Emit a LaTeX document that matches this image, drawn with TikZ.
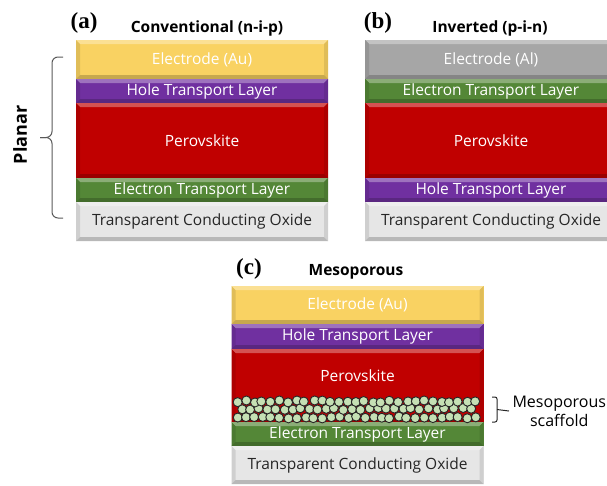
\documentclass[tikz,border=0pt]{standalone}
\usepackage{fontspec}
\setmainfont{Open Sans}
\newfontfamily\tagfont{Liberation Serif}
\usetikzlibrary{calc,positioning}

\definecolor{auGold}{RGB}{249,210,98}
\definecolor{alGray}{RGB}{166,166,166}
\definecolor{htlPurple}{RGB}{112,48,160}
\definecolor{perRed}{RGB}{192,0,0}
\definecolor{etlGreen}{RGB}{84,135,55}
\definecolor{tcoGray}{RGB}{230,230,230}
\definecolor{ballGreen}{RGB}{197,224,180}

\begin{document}
\begin{tikzpicture}[
  x=1pt,y=-1pt,
  layer/.style={fill=#1,minimum width=252pt,inner sep=0pt,outer sep=0pt,
    text=white,font=\fontsize{15.5}{16}\selectfont,
    path picture={
      \fill[#1!68!white] (path picture bounding box.north west)
        -- (path picture bounding box.north east) -- ++(-4pt,-4pt)
        -- ($(path picture bounding box.north west)+(4pt,-4pt)$) -- cycle;
      \fill[#1!90!black] (path picture bounding box.north west)
        -- ++(4pt,-4pt) -- ($(path picture bounding box.south west)+(4pt,4pt)$)
        -- (path picture bounding box.south west) -- cycle;
      \fill[#1!90!black] (path picture bounding box.north east)
        -- ++(-4pt,-4pt) -- ($(path picture bounding box.south east)+(-4pt,4pt)$)
        -- (path picture bounding box.south east) -- cycle;
      \fill[#1!80!black] (path picture bounding box.south west)
        -- (path picture bounding box.south east) -- ++(-4pt,4pt)
        -- ($(path picture bounding box.south west)+(4pt,4pt)$) -- cycle;
    }},
  thick layer/.style={minimum height=39pt},
  thin layer/.style={minimum height=24pt},
  absorber/.style={minimum height=75pt},
  tco/.style={layer=tcoGray,thick layer,text=black!85},
  paneltag/.style={font=\tagfont\bfseries\fontsize{23}{24}\selectfont},
  paneltitle/.style={font=\bfseries\fontsize{15.5}{17}\selectfont},
  brace line/.style={draw=black!65,line width=1pt,rounded corners=6pt},
  ball/.style={fill=ballGreen,draw=black!85,line width=0.9pt}
]
  \clip (0,0) rectangle (607,485);

  % (a) Conventional planar stack
  \node[paneltag] (taga) at (84,23) {(a)};
  \node[paneltitle] (titlea) at (207,28) {Conventional (n-i-p)};
  \node[layer=auGold,thick layer] (a1) at (202,59.5) {Electrode (Au)};
  \node[layer=htlPurple,thin layer,below=0pt of a1] (a2) {Hole Transport Layer};
  \node[layer=perRed,absorber,below=0pt of a2] (a3) {Perovskite};
  \node[layer=etlGreen,thin layer,below=0pt of a3] (a4) {Electron Transport Layer};
  \node[tco,below=0pt of a4] (a5) {Transparent Conducting Oxide};

  % Planar brace
  \coordinate (brtop) at (63,57);
  \coordinate (brbot) at (63,218);
  \coordinate (brtip) at (40,137.5);
  \draw[brace line] (brtop) -- ($(brtop)+(-11pt,0)$)
    -- ($(brtip)+(12pt,0)$) -- (brtip);
  \draw[brace line] (brbot) -- ($(brbot)+(-11pt,0)$)
    -- ($(brtip)+(12pt,0)$) -- (brtip);
  \node[font=\bfseries\fontsize{18}{20}\selectfont,rotate=90] (planar) at (20,135) {Planar};

  % (b) Inverted planar stack
  \node[paneltag] (tagb) at (378,23) {(b)};
  \node[paneltitle] (titleb) at (490,28) {Inverted (p-i-n)};
  \node[layer=alGray,thick layer] (b1) at (491,59.5) {Electrode (Al)};
  \node[layer=etlGreen,thin layer,below=0pt of b1] (b2) {Electron Transport Layer};
  \node[layer=perRed,absorber,below=0pt of b2] (b3) {Perovskite};
  \node[layer=htlPurple,thin layer,below=0pt of b3] (b4) {Hole Transport Layer};
  \node[tco,below=0pt of b4] (b5) {Transparent Conducting Oxide};

  % (c) Mesoporous stack
  \node[paneltag] (tagc) at (249,269) {(c)};
  \node[paneltitle] (titlec) at (356,272) {Mesoporous};
  \node[layer=auGold,minimum height=38pt] (c1) at (357.5,305) {Electrode (Au)};
  \node[layer=htlPurple,minimum height=25pt,below=0pt of c1] (c2) {Hole Transport Layer};
  \node[layer=perRed,minimum height=73pt,below=0pt of c2] (c3) {};
  \node[text=white,font=\fontsize{15.5}{16}\selectfont] (c3label)
    at ($(c3.north)!0.36!(c3.south)$) {Perovskite};
  \node[layer=etlGreen,thin layer,below=0pt of c3] (c4) {Electron Transport Layer};
  \node[tco,minimum height=38pt,below=0pt of c4] (c5) {Transparent Conducting Oxide};

  % Scaffold particles
  \pgfmathsetseed{11}
  \foreach \yy/\xo/\n in {417.5/237/28, 409/241.2/27, 401.5/237/28} {
    \foreach \k in {0,...,\n} {
      \pgfmathsetmacro{\bx}{\xo+8.5*\k+rand*1.2}
      \pgfmathsetmacro{\by}{\yy+rand*1.1}
      \filldraw[ball] (\bx,\by) circle (4.5pt);
    }
  }

  % Scaffold brace and label
  \coordinate (sctop) at (492,397);
  \coordinate (scbot) at (492,422);
  \draw[brace line,draw=black!85,rounded corners=2pt] (sctop) -- ($(sctop)+(5pt,0)$)
    -- ($(scbot)+(5pt,0)$) -- (scbot);
  \node[font=\fontsize{16}{19}\selectfont,align=center,anchor=west] (scaf)
    at (509,411) {Mesoporous\\scaffold};
  \draw[draw=black!85,line width=1pt] ($(sctop)!0.5!(scbot)+(5pt,0)$) -- (scaf.west);
\end{tikzpicture}
\end{document}
